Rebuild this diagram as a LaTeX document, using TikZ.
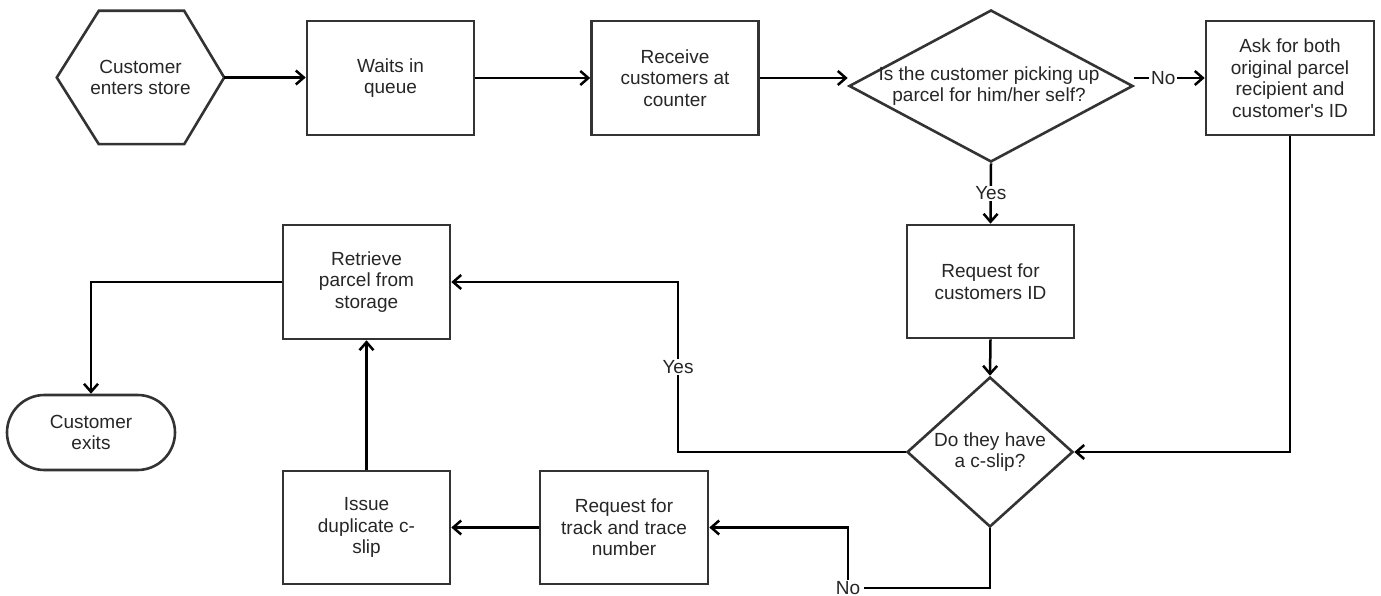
\documentclass[tikz,border=0pt]{standalone}
\usepackage{fontspec}
\setmainfont{Liberation Sans}
\usetikzlibrary{arrows.meta,shapes.geometric,shapes.misc,calc}

\tikzset{
  shapeline/.style={draw=black!80, line width=2.6pt},
  txt/.style={align=center, text=black!85, font=\fontsize{19}{21.5}\selectfont, inner sep=0pt},
  procbox/.style={shapeline, rectangle, txt, minimum width=167pt, minimum height=114pt},
  decision/.style={shapeline, diamond, inner sep=0pt},
  terminal/.style={shapeline, rounded rectangle, txt, minimum width=168pt, minimum height=75pt},
  arr/.style={draw=black, line width=2.5pt,
    -{Straight Barb[length=8pt,width=14pt,line width=2.5pt]}},
  lbl/.style={txt, fill=white, inner xsep=2pt, inner ysep=1pt},
}

\begin{document}
\begin{tikzpicture}[x=1pt, y=-1pt]
\useasboundingbox (0,0) rectangle (1381,596);

% --- top row ---------------------------------------------------------
\node[txt, minimum width=167pt, minimum height=133pt] (enter) at (140.5,77.5)
  {Customer\\enters store};
\draw[shapeline] (enter.west)
  -- ($(enter.north west)+(42,0)$) -- ($(enter.north east)+(-40,0)$)
  -- (enter.east)
  -- ($(enter.south east)+(-40,0)$) -- ($(enter.south west)+(42,0)$)
  -- cycle;

\node[procbox] (wait) at (390.5,78) {Waits in\\queue};
\node[procbox] (recv) at (675,78) {Receive\\customers at\\counter};

\node[decision, minimum width=284pt, minimum height=152pt] (self) at (991,86) {};
\node[txt] at ($(self.center)+(-2,0)$) {Is the customer picking up\\parcel for him/her self?};

\node[procbox, minimum width=168pt] (ask) at (1290,78)
  {Ask for both\\original parcel\\recipient and\\customer\textquotesingle s ID};

% --- right column ----------------------------------------------------
\node[procbox, minimum height=113pt] (reqid) at (990.5,281.5) {Request for\\customers ID};
\node[decision, minimum width=166pt, minimum height=150pt] (cslip) at (990,452) {};
\node[txt] at (cslip.center) {Do they have\\a c-slip?};

% --- left part -------------------------------------------------------
\node[procbox] (retr) at (366.5,282) {Retrieve\\parcel from\\storage};
\node[terminal] (exit) at (91,432.5) {Customer\\exits};
\node[procbox, minimum height=113pt] (issue) at (366.5,527.5) {Issue\\duplicate c-\\slip};
\node[procbox, minimum width=168pt, minimum height=113pt] (track) at (624,527.5)
  {Request for\\track and trace\\number};

\coordinate (yesbend) at (678,452);
\coordinate (nobend) at (848,588);

% --- connectors ------------------------------------------------------
\draw[arr] (enter.east) -- (wait.west |- enter.east);
\draw[arr] (wait.east) -- (recv.west);
\draw[arr] (recv.east) -- (recv.east -| self.west);
\draw[arr] (self.east |- ask.west) -- node[lbl, pos=0.41] {No} (ask.west);
\draw[arr] (self.south) -- node[lbl] {Yes} (reqid.north);
\draw[arr] (reqid.south) -- (cslip.north);
\draw[arr] (ask.south) |- (cslip.east);
\draw[arr] (cslip.west) -- (yesbend) |- node[lbl, pos=0.25] {Yes} (retr.east);
\draw[arr] (cslip.south) |- (nobend) |- (track.east);
\node[lbl, inner xsep=4pt] at (nobend) {No};
\draw[arr] (track.west) -- (issue.east);
\draw[arr] (issue.north) -- (retr.south);
\draw[arr] (retr.west) -| (exit.north);
\end{tikzpicture}
\end{document}
